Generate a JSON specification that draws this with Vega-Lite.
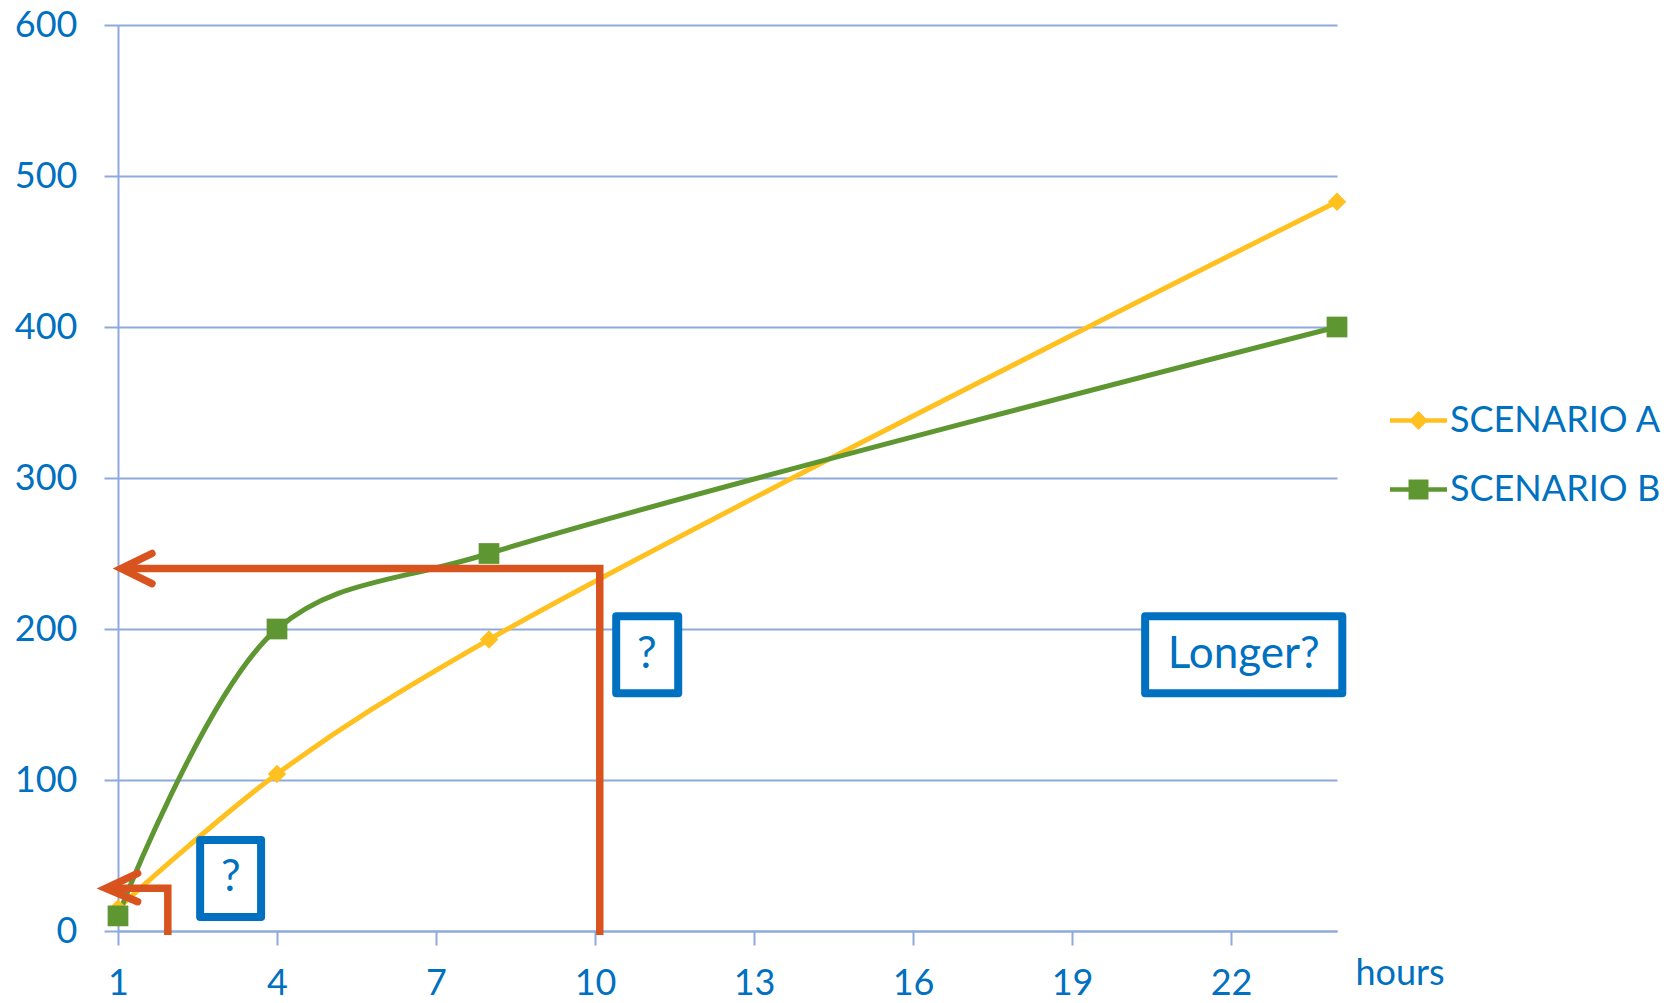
{
  "$schema": "https://vega.github.io/schema/vega-lite/v6.json",
  "width": 1219,
  "height": 906,
  "autosize": "none",
  "padding": {"left": 118, "top": 25, "right": 340, "bottom": 72},
  "background": "white",
  "config": {
    "view": {"stroke": null},
    "font": "Lato",
    "axis": {
      "domainColor": "#8EA9DB",
      "domainWidth": 2,
      "tickColor": "#8EA9DB",
      "tickWidth": 2,
      "tickSize": 14,
      "gridColor": "#8EA9DB",
      "gridWidth": 2,
      "labelFont": "Lato",
      "labelFontSize": 36,
      "labelColor": "#0070C0",
      "titleFont": "Lato",
      "titleFontSize": 36,
      "titleFontWeight": "normal",
      "titleColor": "#0070C0"
    }
  },
  "layer": [
    {
      "data": {
        "values": [
          {"series": "SCENARIO A", "hours": 1, "value": 15},
          {"series": "SCENARIO A", "hours": 4, "value": 104},
          {"series": "SCENARIO A", "hours": 8, "value": 193},
          {"series": "SCENARIO A", "hours": 24, "value": 483},
          {"series": "SCENARIO B", "hours": 1, "value": 10},
          {"series": "SCENARIO B", "hours": 4, "value": 200},
          {"series": "SCENARIO B", "hours": 8, "value": 250},
          {"series": "SCENARIO B", "hours": 24, "value": 400}
        ]
      },
      "layer": [
        {
          "mark": {"type": "line", "strokeWidth": 5, "interpolate": "catmull-rom"},
          "encoding": {
            "x": {
              "field": "hours",
              "type": "quantitative",
              "scale": {"domain": [1, 24], "nice": false, "zero": false},
              "axis": {
                "values": [1, 4, 7, 10, 13, 16, 19, 22],
                "grid": false,
                "labelPadding": 21,
                "labelFlush": false,
                "title": "hours",
                "titleX": 1237,
                "titleY": 53,
                "titleAlign": "left",
                "titleBaseline": "alphabetic",
                "titleAngle": 0
              }
            },
            "y": {
              "field": "value",
              "type": "quantitative",
              "scale": {"domain": [0, 600], "nice": false},
              "axis": {
                "values": [0, 100, 200, 300, 400, 500, 600],
                "grid": true,
                "labelPadding": 27,
                "labelFlush": false,
                "title": null
              }
            },
            "color": {
              "field": "series",
              "type": "nominal",
              "scale": {"domain": ["SCENARIO A", "SCENARIO B"], "range": ["#FFC020", "#5E9732"]},
              "legend": {
                "orient": "none",
                "legendX": 1272,
                "legendY": 367,
                "title": null,
                "padding": 0,
                "labelFont": "Lato",
                "labelFontSize": 36,
                "labelColor": "#0070C0",
                "labelOffset": 3,
                "labelLimit": 0,
                "symbolSize": 3249,
                "rowPadding": 22,
                "encode": {
                  "symbols": {
                    "update": {
                      "shape": {"signal": "datum.value === 'SCENARIO A' ? 'M-1,-0.08H1V0.08H-1Z M-0.33,0L0,-0.33L0.33,0L0,0.33Z' : 'M-1,-0.08H1V0.08H-1Z M-0.35,-0.35H0.35V0.35H-0.35Z'"},
                      "fill": {"scale": "color", "field": "value"},
                      "stroke": {"value": "transparent"},
                      "strokeWidth": {"value": 0},
                      "opacity": {"value": 1}
                    }
                  }
                }
              }
            }
          }
        },
        {
          "transform": [{"filter": "datum.series === 'SCENARIO A'"}],
          "mark": {"type": "point", "shape": "diamond", "filled": true, "size": 340, "color": "#FFC020", "opacity": 1},
          "encoding": {
            "x": {"field": "hours", "type": "quantitative"},
            "y": {"field": "value", "type": "quantitative"}
          }
        },
        {
          "transform": [{"filter": "datum.series === 'SCENARIO B'"}],
          "mark": {"type": "point", "shape": "square", "filled": true, "size": 430, "color": "#5E9732", "opacity": 1},
          "encoding": {
            "x": {"field": "hours", "type": "quantitative"},
            "y": {"field": "value", "type": "quantitative"}
          }
        }
      ]
    },
    {
      "data": {
        "values": [
          {"path": "long", "step": 0, "hours": 10.09, "value": -2.6},
          {"path": "long", "step": 1, "hours": 10.09, "value": 240},
          {"path": "long", "step": 2, "hours": 1.06, "value": 240},
          {"path": "short", "step": 0, "hours": 1.94, "value": -2.6},
          {"path": "short", "step": 1, "hours": 1.94, "value": 28.3},
          {"path": "short", "step": 2, "hours": 0.77, "value": 28.3}
        ]
      },
      "mark": {"type": "line", "color": "#D9531E", "strokeWidth": 7.5, "strokeCap": "butt", "strokeJoin": "miter"},
      "encoding": {
        "x": {"field": "hours", "type": "quantitative"},
        "y": {"field": "value", "type": "quantitative"},
        "detail": {"field": "path", "type": "nominal"},
        "order": {"field": "step", "type": "quantitative"}
      }
    },
    {
      "data": {
        "values": [
          {"head": "long", "step": 0, "hours": 1.64, "value": 250},
          {"head": "long", "step": 1, "hours": 1.06, "value": 240},
          {"head": "long", "step": 2, "hours": 1.64, "value": 230},
          {"head": "short", "step": 0, "hours": 1.37, "value": 38.2},
          {"head": "short", "step": 1, "hours": 0.77, "value": 28.3},
          {"head": "short", "step": 2, "hours": 1.37, "value": 19.4}
        ]
      },
      "mark": {"type": "line", "color": "#D9531E", "strokeWidth": 7.5, "strokeCap": "round", "strokeJoin": "miter"},
      "encoding": {
        "x": {"field": "hours", "type": "quantitative"},
        "y": {"field": "value", "type": "quantitative"},
        "detail": {"field": "head", "type": "nominal"},
        "order": {"field": "step", "type": "quantitative"}
      }
    },
    {
      "data": {
        "values": [
          {"label": "?", "hours": 2.55, "hours2": 3.70, "value": 60.3, "value2": 9.3, "mid": 3.13, "midValue": 34.8},
          {"label": "?", "hours": 10.40, "hours2": 11.57, "value": 208.4, "value2": 157.4, "mid": 10.98, "midValue": 182.9},
          {"label": "Longer?", "hours": 20.38, "hours2": 24.1, "value": 208.4, "value2": 157.4, "mid": 22.24, "midValue": 182.9}
        ]
      },
      "layer": [
        {
          "mark": {"type": "rect", "fill": "white", "stroke": "#0070C0", "strokeWidth": 8, "strokeJoin": "round"},
          "encoding": {
            "x": {"field": "hours", "type": "quantitative"},
            "x2": {"field": "hours2"},
            "y": {"field": "value", "type": "quantitative"},
            "y2": {"field": "value2"}
          }
        },
        {
          "mark": {"type": "text", "font": "Lato", "fontSize": 44, "color": "#0070C0", "align": "center", "baseline": "middle"},
          "encoding": {
            "x": {"field": "mid", "type": "quantitative"},
            "y": {"field": "midValue", "type": "quantitative"},
            "text": {"field": "label"}
          }
        }
      ]
    }
  ]
}
